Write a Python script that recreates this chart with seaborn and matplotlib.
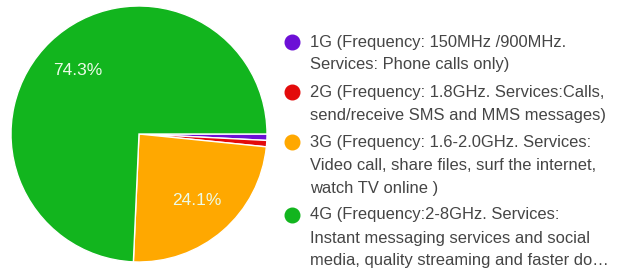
import matplotlib
matplotlib.use("Agg")
import matplotlib.pyplot as plt
import seaborn as sns
from matplotlib.lines import Line2D

generations = ["1G", "2G", "3G", "4G"]
shares = [0.8, 0.8, 24.1, 74.3]
colors = ["#6c0fd6", "#e30b0b", "#ffa800", "#12b51e"]
legend_labels = [
    "1G (Frequency: 150MHz /900MHz.\nServices: Phone calls only)",
    "2G (Frequency: 1.8GHz. Services:Calls,\nsend/receive SMS and MMS messages)",
    "3G (Frequency: 1.6-2.0GHz. Services:\nVideo call, share files, surf the internet,\nwatch TV online )",
    "4G (Frequency:2-8GHz. Services:\nInstant messaging services and social\nmedia, quality streaming and faster do\u2026",
]

W, H = 629, 273


def main():
    sns.set_theme(style="white")
    plt.rcParams["font.family"] = ["Liberation Sans", "DejaVu Sans"]

    fig = plt.figure(figsize=(W / 100, H / 100), dpi=100)
    cx, cy, r = 139, 134, 128
    ax = fig.add_axes([(cx - r) / W, (H - cy - r) / H, 2 * r / W, 2 * r / H])

    ax.pie(
        shares,
        colors=colors,
        startangle=0,
        counterclock=False,
        autopct=lambda p: f"{p:.1f}%" if p > 5 else "",
        pctdistance=0.69,
        wedgeprops={"edgecolor": "white", "linewidth": 1},
        textprops={"color": "#ecfbe8", "fontsize": 12.5},
    )
    ax.set_xlim(-1, 1)
    ax.set_ylim(-1, 1)
    ax.set_aspect("equal")

    # legend drawn as text lines with round markers
    y = 42
    for label, col in zip(legend_labels, colors):
        lines = label.split("\n")
        fig.add_artist(Line2D([292 / W], [1 - y / H], marker="o", markersize=10.5,
                              color=col, linestyle="none", transform=fig.transFigure))
        for ln in lines:
            fig.text(310 / W, 1 - y / H, ln, fontsize=11.9, color="#454545",
                     va="center", ha="left")
            y += 23
        y += 4

    fig.savefig("out.png", dpi=100)
    plt.close(fig)


if __name__ == "__main__":
    main()
